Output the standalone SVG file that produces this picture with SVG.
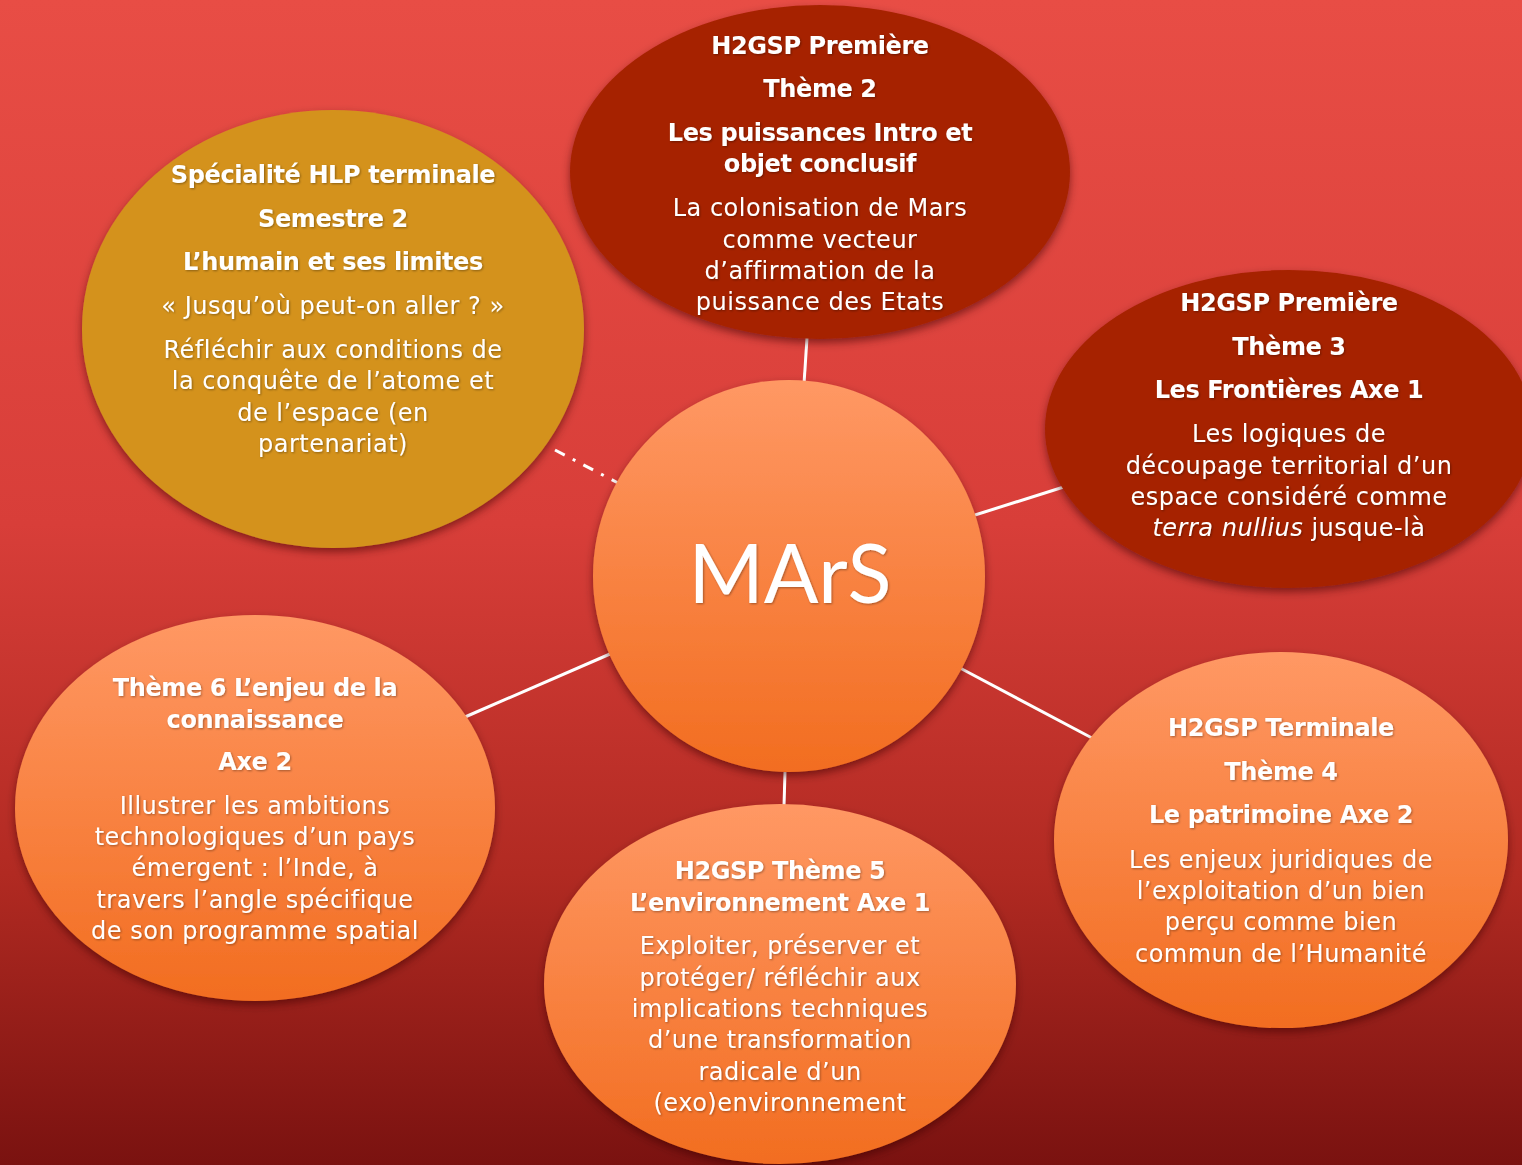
<svg xmlns="http://www.w3.org/2000/svg" width="1522" height="1165" viewBox="0 0 1522 1165">
<defs>
<linearGradient id="bg" x1="0" y1="0" x2="0" y2="1">
<stop offset="0" stop-color="#e84d45"/>
<stop offset="0.45" stop-color="#d83e39"/>
<stop offset="0.75" stop-color="#b12a22"/>
<stop offset="1" stop-color="#7a1210"/>
</linearGradient>
<linearGradient id="orange" x1="0" y1="0" x2="0" y2="1">
<stop offset="0" stop-color="#ff9864"/>
<stop offset="1" stop-color="#f26d20"/>
</linearGradient>
<filter id="sh" x="-10%" y="-10%" width="120%" height="125%">
<feDropShadow dx="0" dy="4" stdDeviation="4" flood-color="#3a0000" flood-opacity="0.55"/>
</filter>
<filter id="tsh" x="-5%" y="-20%" width="110%" height="140%">
<feDropShadow dx="1" dy="1" stdDeviation="0.8" flood-color="#000" flood-opacity="0.35"/>
</filter>
</defs>
<style>
.t{font-family:"DejaVu Sans","Noto Sans",sans-serif;fill:#fff;text-anchor:middle;font-size:24px;letter-spacing:0.5px}
.b{font-weight:bold;font-size:24px;letter-spacing:-0.4px}
.dark{fill:#a62200}
.gold{fill:#d4921f}
.or{fill:url(#orange)}
.conn{stroke:#fff;stroke-width:3;fill:none}
</style>
<rect width="1522" height="1165" fill="url(#bg)"/>
<g id="connectors">
<line class="conn" x1="804" y1="384" x2="807" y2="338"/>
<line class="conn" x1="975" y1="515" x2="1070" y2="485"/>
<line class="conn" x1="960" y1="668" x2="1092" y2="738"/>
<line class="conn" x1="785" y1="772" x2="784" y2="806"/>
<line class="conn" x1="610" y1="654" x2="465" y2="717"/>
<line class="conn" x1="555" y1="450" x2="618" y2="483" stroke-dasharray="11,9,3,9"/>
</g>
<g id="node-hlp">
<ellipse class="gold" cx="333" cy="329" rx="251" ry="219" filter="url(#sh)"/>
<g class="t" filter="url(#tsh)">
<text class="b" x="333" y="183">Spécialité HLP terminale</text>
<text class="b" x="333" y="227">Semestre 2</text>
<text class="b" x="333" y="270">L’humain et ses limites</text>
<text x="333" y="314">« Jusqu’où peut-on aller ? »</text>
<text x="333" y="358">Réfléchir aux conditions de</text>
<text x="333" y="389">la conquête de l’atome et</text>
<text x="333" y="421">de l’espace (en</text>
<text x="333" y="452">partenariat)</text>
</g>
</g>
<g id="node-theme2">
<ellipse class="dark" cx="820" cy="172" rx="250" ry="167" filter="url(#sh)"/>
<g class="t" filter="url(#tsh)">
<text class="b" x="820" y="54">H2GSP Première</text>
<text class="b" x="820" y="97">Thème 2</text>
<text class="b" x="820" y="141">Les puissances Intro et</text>
<text class="b" x="820" y="172">objet conclusif</text>
<text x="820" y="216">La colonisation de Mars</text>
<text x="820" y="248">comme vecteur</text>
<text x="820" y="279">d’affirmation de la</text>
<text x="820" y="310">puissance des Etats</text>
</g>
</g>
<g id="node-theme3">
<ellipse class="dark" cx="1289" cy="429" rx="244" ry="159" filter="url(#sh)"/>
<g class="t" filter="url(#tsh)">
<text class="b" x="1289" y="311">H2GSP Première</text>
<text class="b" x="1289" y="355">Thème 3</text>
<text class="b" x="1289" y="398">Les Frontières Axe 1</text>
<text x="1289" y="442">Les logiques de</text>
<text x="1289" y="474">découpage territorial d’un</text>
<text x="1289" y="505">espace considéré comme</text>
<text x="1289" y="536"><tspan font-style="italic">terra nullius</tspan> jusque-là</text>
</g>
</g>
<g id="node-theme6">
<ellipse class="or" cx="255" cy="808" rx="240" ry="193" filter="url(#sh)"/>
<g class="t" filter="url(#tsh)">
<text class="b" x="255" y="696">Thème 6 L’enjeu de la</text>
<text class="b" x="255" y="728">connaissance</text>
<text class="b" x="255" y="770">Axe 2</text>
<text x="255" y="814">Illustrer les ambitions</text>
<text x="255" y="845">technologiques d’un pays</text>
<text x="255" y="876">émergent : l’Inde, à</text>
<text x="255" y="908">travers l’angle spécifique</text>
<text x="255" y="939">de son programme spatial</text>
</g>
</g>
<g id="node-theme5">
<ellipse class="or" cx="780" cy="984" rx="236" ry="180" filter="url(#sh)"/>
<g class="t" filter="url(#tsh)">
<text class="b" x="780" y="879">H2GSP Thème 5</text>
<text class="b" x="780" y="911">L’environnement Axe 1</text>
<text x="780" y="954">Exploiter, préserver et</text>
<text x="780" y="986">protéger/ réfléchir aux</text>
<text x="780" y="1017">implications techniques</text>
<text x="780" y="1048">d’une transformation</text>
<text x="780" y="1080">radicale d’un</text>
<text x="780" y="1111">(exo)environnement</text>
</g>
</g>
<g id="node-theme4">
<ellipse class="or" cx="1281" cy="840" rx="227" ry="188" filter="url(#sh)"/>
<g class="t" filter="url(#tsh)">
<text class="b" x="1281" y="736">H2GSP Terminale</text>
<text class="b" x="1281" y="780">Thème 4</text>
<text class="b" x="1281" y="823">Le patrimoine Axe 2</text>
<text x="1281" y="868">Les enjeux juridiques de</text>
<text x="1281" y="899">l’exploitation d’un bien</text>
<text x="1281" y="930">perçu comme bien</text>
<text x="1281" y="962">commun de l’Humanité</text>
</g>
</g>
<g id="node-mars">
<circle class="or" cx="789" cy="576" r="196" filter="url(#sh)"/>
<text x="790" y="603" font-family="Lato,'Open Sans',sans-serif" font-size="81" fill="#fff" text-anchor="middle" filter="url(#tsh)">MArS</text>
</g>
</svg>
